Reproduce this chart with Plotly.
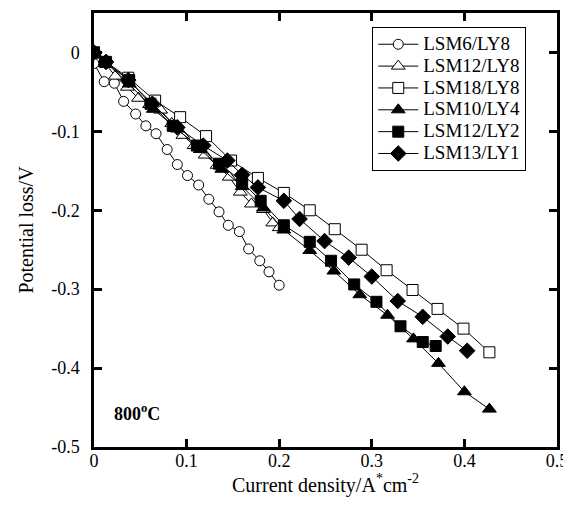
import plotly.graph_objects as go

# LSM6/LY8 (open circles)
c_x = [0.000, 0.011, 0.022, 0.032, 0.045, 0.056, 0.067, 0.079, 0.090, 0.101, 0.113, 0.124, 0.135, 0.145, 0.157, 0.167, 0.179, 0.189, 0.200]
c_y = [-0.014, -0.037, -0.039, -0.062, -0.078, -0.093, -0.103, -0.123, -0.142, -0.156, -0.168, -0.186, -0.202, -0.219, -0.227, -0.249, -0.264, -0.278, -0.295]

# LSM12/LY8 (open triangles)
t_x = [0.000, 0.012, 0.023, 0.036, 0.048, 0.060, 0.072, 0.084, 0.096, 0.108, 0.120, 0.133, 0.146, 0.158, 0.170, 0.183, 0.193, 0.200]
t_y = [0.000, -0.014, -0.030, -0.044, -0.058, -0.066, -0.073, -0.090, -0.105, -0.118, -0.130, -0.143, -0.158, -0.177, -0.192, -0.199, -0.216, -0.222]

# LSM18/LY8 (open squares)
s_x = [0.000, 0.013, 0.037, 0.066, 0.093, 0.121, 0.148, 0.177, 0.205, 0.233, 0.260, 0.289, 0.316, 0.344, 0.371, 0.399, 0.427]
s_y = [0.000, -0.012, -0.032, -0.061, -0.082, -0.106, -0.137, -0.159, -0.178, -0.200, -0.224, -0.250, -0.276, -0.301, -0.325, -0.350, -0.380]

# LSM10/LY4 (filled triangles)
ft_x = [0.000, 0.012, 0.038, 0.064, 0.090, 0.115, 0.138, 0.160, 0.183, 0.205, 0.233, 0.259, 0.287, 0.317, 0.345, 0.372, 0.400, 0.427]
ft_y = [0.000, -0.012, -0.040, -0.072, -0.097, -0.123, -0.148, -0.170, -0.197, -0.225, -0.251, -0.277, -0.307, -0.333, -0.363, -0.394, -0.430, -0.452]

# LSM12/LY2 (filled squares)
fs_x = [0.000, 0.012, 0.038, 0.061, 0.085, 0.111, 0.135, 0.160, 0.180, 0.205, 0.233, 0.256, 0.281, 0.305, 0.331, 0.355, 0.369]
fs_y = [0.000, -0.012, -0.035, -0.065, -0.093, -0.118, -0.141, -0.164, -0.188, -0.219, -0.240, -0.264, -0.294, -0.316, -0.347, -0.367, -0.372]

# LSM13/LY1 (filled diamonds)
d_x = [0.000, 0.013, 0.037, 0.063, 0.090, 0.118, 0.144, 0.160, 0.177, 0.205, 0.222, 0.249, 0.275, 0.300, 0.328, 0.355, 0.382, 0.403]
d_y = [0.000, -0.012, -0.035, -0.065, -0.095, -0.118, -0.137, -0.155, -0.171, -0.188, -0.211, -0.239, -0.260, -0.284, -0.315, -0.335, -0.360, -0.378]

series_names = ["LSM6/LY8", "LSM12/LY8", "LSM18/LY8", "LSM10/LY4", "LSM12/LY2", "LSM13/LY1"]

x_ticks = [0, 0.1, 0.2, 0.3, 0.4, 0.5]
x_labels = ["0", "0.1", "0.2", "0.3", "0.4", "0.5"]
y_ticks = [0, -0.1, -0.2, -0.3, -0.4, -0.5]
y_labels = ["0", "-0.1", "-0.2", "-0.3", "-0.4", "-0.5"]

series = [
    (series_names[0], c_x, c_y, "circle", 10, "white"),
    (series_names[1], t_x, t_y, "triangle-up", 12, "white"),
    (series_names[2], s_x, s_y, "square", 11, "white"),
    (series_names[3], ft_x, ft_y, "triangle-up", 12, "black"),
    (series_names[4], fs_x, fs_y, "square", 11, "black"),
    (series_names[5], d_x, d_y, "diamond", 12, "black"),
]

FONT = "Liberation Serif, Times New Roman, serif"

fig = go.Figure()
for name, xs, ys, sym, size, fill in series:
    fig.add_trace(go.Scatter(
        x=xs, y=ys, mode="lines+markers",
        name='<span style="font-size:19px">' + name + '</span>',
        line=dict(color="black", width=1),
        marker=dict(symbol=sym, size=size, color=fill,
                    line=dict(color="black", width=1)),
    ))

axis_common = dict(
    showline=True, linecolor="black", linewidth=2.5, mirror="ticks",
    ticks="inside", ticklen=8, tickwidth=2.5, tickcolor="black",
    showgrid=False, zeroline=False, automargin=False,
    tickfont=dict(family=FONT, size=18, color="black"),
)

# page body adds an 8px margin, so the figure is sized to fit the 571x505 window
fig.update_layout(
    width=563, height=497,
    margin=dict(l=86, r=14, t=5, b=58),
    paper_bgcolor="white", plot_bgcolor="white",
    font=dict(family=FONT, color="black"),
    xaxis=dict(range=[0, 0.5], tickvals=x_ticks, ticktext=x_labels,
               ticklabelstandoff=-4,
               title=dict(text="Current density/A<sup>*</sup>cm<sup>-2</sup>",
                          font=dict(family=FONT, size=20), standoff=0),
               **axis_common),
    yaxis=dict(range=[-0.5, 0.05], tickvals=y_ticks, ticktext=y_labels,
               ticklabelstandoff=8,
               title=dict(text="Potential loss/V",
                          font=dict(family=FONT, size=20), standoff=13),
               **axis_common),
    legend=dict(x=0.601, y=0.967, xanchor="left", yanchor="top",
                bordercolor="black", borderwidth=1, bgcolor="white",
                font=dict(family=FONT, size=14.5, color="black"),
                tracegroupgap=0, itemwidth=40),
    showlegend=True,
)

fig.add_annotation(
    x=0.019, y=-0.456, xref="x", yref="y", xanchor="left", yanchor="middle",
    text="<b>800<sup>o</sup>C</b>", showarrow=False,
    font=dict(family=FONT, size=18, color="black"),
)

fig.write_html("out.html")
